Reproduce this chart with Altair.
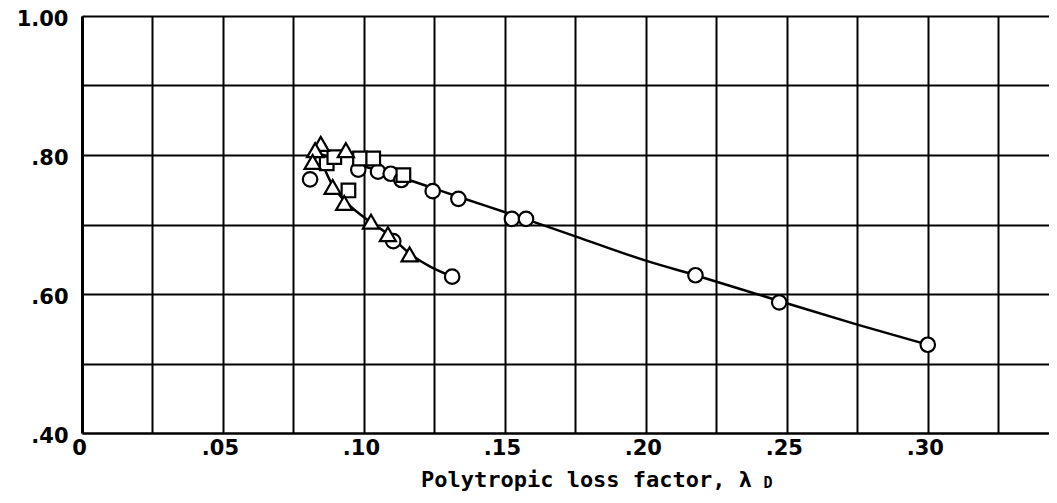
import altair as alt
import pandas as pd

# Marker data
circle_x = [0.0809, 0.0850, 0.0980, 0.1050, 0.1095, 0.1133, 0.1244, 0.1335, 0.1525, 0.1575,
            0.2176, 0.2473, 0.3000, 0.1104, 0.1313]
circle_y = [0.765, 0.790, 0.779, 0.776, 0.773, 0.764, 0.748, 0.737, 0.708, 0.708,
            0.627, 0.588, 0.527, 0.676, 0.625]
square_x = [0.0868, 0.0895, 0.0945, 0.0986, 0.1033, 0.1140]
square_y = [0.788, 0.797, 0.749, 0.795, 0.795, 0.771]
triangle_x = [0.0847, 0.0827, 0.0936, 0.0818, 0.0889, 0.0930, 0.1025, 0.1085, 0.1162]
triangle_y = [0.816, 0.807, 0.807, 0.790, 0.754, 0.731, 0.704, 0.686, 0.657]

# Faired curves
upper_x = [0.0970, 0.1130, 0.1240, 0.1335, 0.1550, 0.1750, 0.2000, 0.2176, 0.2473, 0.2750, 0.3000]
upper_y = [0.787, 0.768, 0.753, 0.740, 0.711, 0.683, 0.648, 0.627, 0.590, 0.556, 0.527]
lower_x = [0.0855, 0.0889, 0.0940, 0.1025, 0.1090, 0.1160, 0.1313]
lower_y = [0.785, 0.756, 0.731, 0.703, 0.685, 0.659, 0.625]

x_grid = [0.0, 0.025, 0.05, 0.075, 0.10, 0.125, 0.15, 0.175, 0.20, 0.225, 0.25, 0.275, 0.30, 0.325]
y_grid = [0.4, 0.5, 0.6, 0.7, 0.8, 0.9, 1.0]
x_title = "Polytropic loss factor, λ"
x_title_sub = "D"

x_label_expr = ("datum.value == 0 ? '0' : (round(datum.value*1000) % 50 == 0 ? "
                "replace(format(datum.value, '.2f'), '0.', '.') : '')")
y_label_expr = ("round(datum.value*10) % 2 == 0 ? (datum.value >= 0.999 ? '1.00' : "
                "replace(format(datum.value, '.2f'), '0.', '.')) : ''")

x_enc = alt.X(
    "x:Q",
    scale=alt.Scale(domain=[0, 0.343], nice=False, zero=False),
    axis=alt.Axis(
        values=x_grid, labelExpr=x_label_expr, ticks=False, grid=True,
        gridColor="black", gridWidth=2, gridOpacity=1,
        domainColor="black", domainWidth=2,
        labelFont="DejaVu Sans", labelFontWeight="bold", labelFontSize=21,
        labelColor="black", labelPadding=4, labelOverlap=False, labelFlush=False,
        labelOffset=-3,
        title=x_title, titleFont="DejaVu Sans Mono", titleFontSize=22,
        titleFontWeight="bold", titleColor="black", titleX=504, titleY=53,
        titleBaseline="alphabetic", titleAlign="center",
    ),
)
y_enc = alt.Y(
    "y:Q",
    scale=alt.Scale(domain=[0.4, 1.0], nice=False, zero=False),
    axis=alt.Axis(
        values=y_grid, labelExpr=y_label_expr, ticks=False, grid=True,
        gridColor="black", gridWidth=2, gridOpacity=1,
        domainColor="black", domainWidth=3,
        labelFont="DejaVu Sans", labelFontWeight="bold", labelFontSize=21,
        labelColor="black", labelPadding=14, labelOverlap=False, labelFlush=False,
        labelOffset=3, title=None,
    ),
)

upper = alt.Chart(pd.DataFrame({"x": upper_x, "y": upper_y})).mark_line(
    color="black", strokeWidth=2.5, interpolate="monotone").encode(x=x_enc, y=y_enc)
lower = alt.Chart(pd.DataFrame({"x": lower_x, "y": lower_y})).mark_line(
    color="black", strokeWidth=2.5, interpolate="monotone").encode(x=x_enc, y=y_enc)

circles = alt.Chart(pd.DataFrame({"x": circle_x, "y": circle_y})).mark_point(
    shape="circle", filled=True, fill="white", fillOpacity=1, stroke="black",
    strokeWidth=2.2, size=210, opacity=1).encode(x=x_enc, y=y_enc)
squares = alt.Chart(pd.DataFrame({"x": square_x, "y": square_y})).mark_point(
    shape="square", filled=True, fill="white", fillOpacity=1, stroke="black",
    strokeWidth=2.2, size=185, opacity=1).encode(x=x_enc, y=y_enc)
triangles = alt.Chart(pd.DataFrame({"x": triangle_x, "y": triangle_y})).mark_point(
    shape="triangle-up", filled=True, fill="white", fillOpacity=1, stroke="black",
    strokeWidth=2.2, size=260, opacity=1).encode(x=x_enc, y=y_enc)

sub = alt.Chart(pd.DataFrame({"t": [x_title_sub]})).mark_text(
    font="DejaVu Sans Mono", fontSize=15, fontWeight="bold", align="center",
    baseline="alphabetic", color="black").encode(
    x=alt.value(686), y=alt.value(472), text="t:N")

chart = alt.layer(upper, lower, circles, squares, triangles, sub).properties(
    width=967, height=417,
    padding={"left": 74, "top": 8, "right": 0, "bottom": 62},
    autosize=alt.AutoSizeParams(type="none"),
    background="white",
).configure_view(stroke=None)

chart.save("out.html", embed_options={"renderer": "svg", "actions": False})
